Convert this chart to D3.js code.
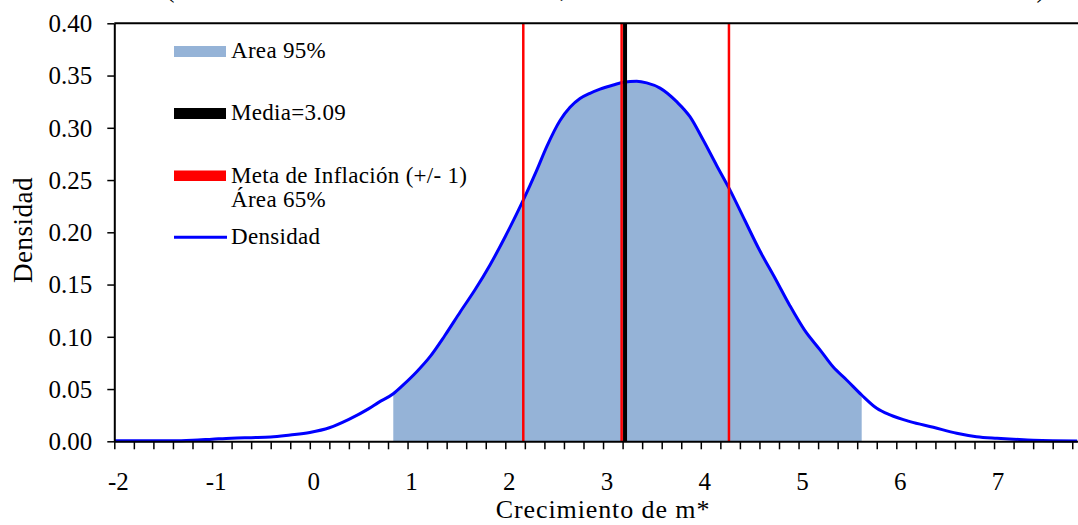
<!DOCTYPE html>
<html>
<head>
<meta charset="utf-8">
<script src="https://cdn.jsdelivr.net/npm/d3@7"></script>
<style>
  html, body { margin: 0; padding: 0; background: #fff; }
  svg { display: block; font-family: "Liberation Serif", "DejaVu Serif", serif; }
</style>
</head>
<body>
<svg id="chart" width="1078" height="525"></svg>
<script>
// ---- data ----
const densX = [-2.0, -1.8, -1.6, -1.4, -1.2, -1.0, -0.8, -0.6, -0.4, -0.2, 0.0, 0.2, 0.4, 0.6, 0.7,
  0.854, 0.956, 1.094, 1.23, 1.38, 1.54, 1.69, 1.845, 2.0, 2.18, 2.32, 2.424, 2.56, 2.662, 2.764,
  2.866, 2.969, 3.105, 3.207, 3.344, 3.446, 3.583, 3.753, 3.889, 4.026, 4.162, 4.29, 4.45, 4.6,
  4.76, 4.91, 5.06, 5.22, 5.355, 5.492, 5.646, 5.8, 5.936, 6.14, 6.379, 6.618, 6.82, 7.03, 7.2,
  7.4, 7.6, 7.85];
const densY = [0.0005, 0.0005, 0.0006, 0.0005, 0.001, 0.002, 0.003, 0.0035, 0.004, 0.006, 0.0085, 0.013, 0.021, 0.031, 0.037,
  0.0455, 0.054, 0.0666, 0.081, 0.101, 0.124, 0.145, 0.169, 0.196, 0.230, 0.259, 0.282, 0.307, 0.3196, 0.328,
  0.333, 0.337, 0.341, 0.3435, 0.3445, 0.343, 0.338, 0.325, 0.3106, 0.288, 0.264, 0.242, 0.2115, 0.183,
  0.156, 0.130, 0.1066, 0.0875, 0.071, 0.0587, 0.0443, 0.0316, 0.0252, 0.0188, 0.0134, 0.0077, 0.0044, 0.0029, 0.002,
  0.001, 0.0005, 0.0003];
const area95 = [0.854, 5.646];
const meanPos = 3.225;
const meanLabel = "Media=3.09";
const targetLines = [2.184, 3.19, 4.288];
const xTickLabels = [-2, -1, 0, 1, 2, 3, 4, 5, 6, 7];
const yTicks = [0, 0.05, 0.10, 0.15, 0.20, 0.25, 0.30, 0.35, 0.40];
const legendLabels = ["Area 95%", meanLabel, "Meta de Inflación (+/- 1)", "Área 65%", "Densidad"];
const xTitle = "Crecimiento de m*";
const yTitle = "Densidad";

// ---- layout ----
const svg = d3.select("#chart");
const pL = 114.3, pR = 1078, pT = 23.3, pB = 441.3;
const x = d3.scaleLinear().domain([-2, -2 + (pR - pL) / 97.75]).range([pL, pR]);
const y = d3.scaleLinear().domain([0, 0.4]).range([pB, pT]);

const pts = densX.map((d, i) => [d, densY[i]]);
const areaPts = pts.filter(p => p[0] >= area95[0] - 1e-9 && p[0] <= area95[1] + 1e-9);

const blueFill = "#95b3d7";

// area 95%
svg.append("path")
  .datum(areaPts)
  .attr("fill", blueFill)
  .attr("d", d3.area().x(p => x(p[0])).y0(y(0)).y1(p => y(p[1])).curve(d3.curveMonotoneX));

// density curve
svg.append("path")
  .datum(pts)
  .attr("fill", "none")
  .attr("stroke", "#0000ff")
  .attr("stroke-width", 3)
  .attr("stroke-linejoin", "round")
  .attr("d", d3.line().x(p => x(p[0])).y(p => y(p[1])).curve(d3.curveMonotoneX));

// red target lines
svg.selectAll("line.target").data(targetLines).enter().append("line")
  .attr("class", "target")
  .attr("x1", d => x(d)).attr("x2", d => x(d))
  .attr("y1", y(0.4)).attr("y2", y(0))
  .attr("stroke", "#ff0000").attr("stroke-width", 2.5);

// mean line
svg.append("line")
  .attr("x1", x(meanPos)).attr("x2", x(meanPos))
  .attr("y1", y(0.4)).attr("y2", y(0))
  .attr("stroke", "#000").attr("stroke-width", 4);

// top frame line
svg.append("line")
  .attr("x1", pL).attr("x2", pR)
  .attr("y1", pT).attr("y2", pT)
  .attr("stroke", "#000").attr("stroke-width", 2);

// x axis (minor ticks)
const minorTicks = d3.range(0, 50).map(i => -2 + i * 0.2);
const xAxis = svg.append("g")
  .attr("transform", `translate(0,${pB})`)
  .call(d3.axisBottom(x).tickValues(minorTicks).tickSize(8).tickSizeOuter(0).tickFormat(""));
xAxis.select(".domain").attr("stroke", "#000").attr("stroke-width", 2);
xAxis.selectAll(".tick line").attr("stroke", "#000").attr("stroke-width", 1.5);

// x tick labels
svg.append("g").selectAll("text").data(xTickLabels).enter().append("text")
  .attr("x", d => x(d) + 4)
  .attr("y", 490)
  .attr("text-anchor", "middle")
  .attr("font-size", 25)
  .attr("fill", "#000")
  .text(d => d);

// y axis
const yAxis = svg.append("g")
  .attr("transform", `translate(${pL},0)`)
  .call(d3.axisLeft(y).tickValues(yTicks).tickSize(7).tickSizeOuter(0).tickPadding(15).tickFormat(d3.format(".2f")));
yAxis.select(".domain").attr("stroke", "#000").attr("stroke-width", 2);
yAxis.selectAll(".tick line").attr("stroke", "#000").attr("stroke-width", 1.5);
yAxis.selectAll(".tick text")
  .attr("font-family", "Liberation Serif, serif")
  .attr("font-size", 25)
  .attr("fill", "#000")
  .attr("dy", "0.33em");

// axis titles
svg.append("text")
  .attr("x", 603).attr("y", 518)
  .attr("text-anchor", "middle")
  .attr("font-size", 26)
  .attr("letter-spacing", 0.9)
  .text(xTitle);
svg.append("text")
  .attr("transform", "translate(32,230) rotate(-90)")
  .attr("text-anchor", "middle")
  .attr("font-size", 27)
  .attr("letter-spacing", 0.5)
  .text(yTitle);

// cropped title descenders (the reference shows only the bottom of a cut-off title line)
svg.append("text").attr("x", 170).attr("y", -3).attr("font-size", 27).attr("text-anchor", "middle").text("(");
svg.append("text").attr("x", 563).attr("y", -3).attr("font-size", 27).attr("text-anchor", "middle").text(",");
svg.append("text").attr("x", 1041).attr("y", -3).attr("font-size", 27).attr("text-anchor", "middle").text(")");

// legend
const lg = svg.append("g");
lg.append("rect").attr("x", 174).attr("y", 46).attr("width", 52).attr("height", 11).attr("fill", blueFill);
lg.append("rect").attr("x", 174).attr("y", 108).attr("width", 52).attr("height", 11).attr("fill", "#000");
lg.append("rect").attr("x", 174).attr("y", 170.5).attr("width", 52).attr("height", 10.5).attr("fill", "#ff0000");
lg.append("line").attr("x1", 174).attr("x2", 227).attr("y1", 237.3).attr("y2", 237.3)
  .attr("stroke", "#0000ff").attr("stroke-width", 3);
const lgY = [58, 120, 183, 207, 244];
lg.selectAll("text").data(legendLabels).enter().append("text")
  .attr("x", 231).attr("y", (d, i) => lgY[i])
  .attr("font-size", 23)
  .attr("letter-spacing", 0.3)
  .attr("fill", "#000")
  .text(d => d);
</script>
</body>
</html>
